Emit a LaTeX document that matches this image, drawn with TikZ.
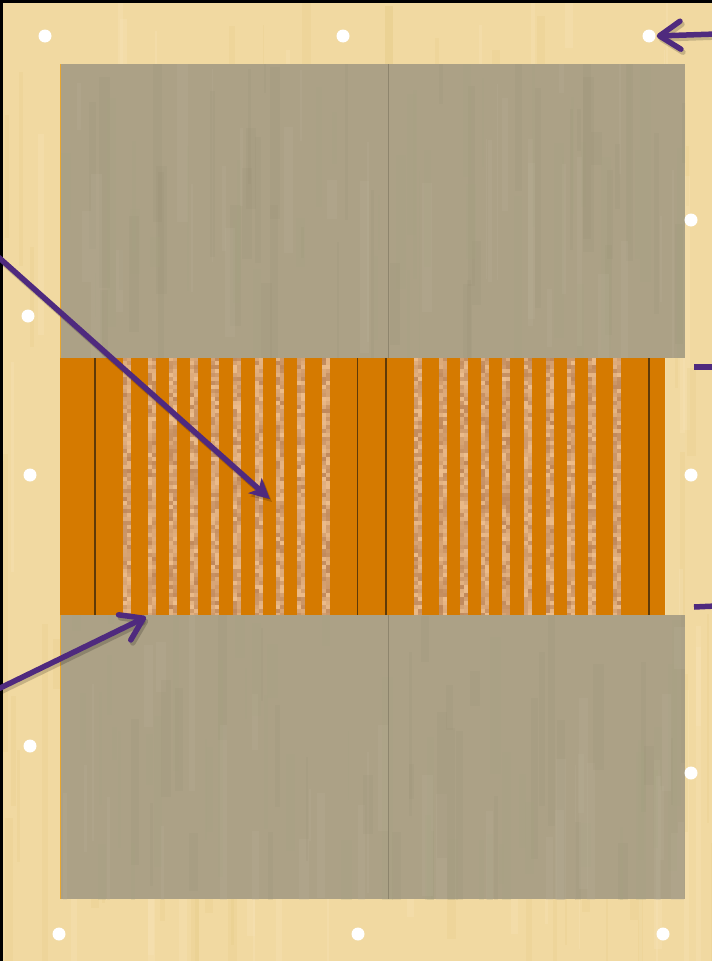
\documentclass[tikz,border=0pt]{standalone}
\usetikzlibrary{arrows.meta}
\definecolor{papyrus}{HTML}{F1D9A1}
\definecolor{papyrusdark}{HTML}{E2C67C}
\definecolor{papyruslight}{HTML}{F9E7BE}
\definecolor{panelgray}{HTML}{ACA186}
\definecolor{panelgraydark}{HTML}{978D72}
\definecolor{panelgraylight}{HTML}{BDB39C}
\definecolor{panelgreen}{HTML}{A6A582}
\definecolor{bandorange}{HTML}{D57A00}
\definecolor{texdark}{HTML}{A96E42}
\definecolor{texlight}{HTML}{F4C695}
\definecolor{seam}{HTML}{5E3A08}
\definecolor{arrowpurple}{HTML}{4F2A7E}
\definecolor{edgeorange}{HTML}{E8A630}
\tikzset{
  pindot/.style={circle,fill=white,minimum size=13pt,inner sep=0pt},
  pointer/.style={draw=arrowpurple,line width=5.5pt,line cap=round},
  barbtip/.style={-{Straight Barb[length=21pt,width=28pt,line width=5.5pt,round]}},
  kitetip/.style={-{Stealth[length=20pt,width=20pt,inset=5pt]}},
  shadowline/.style={draw=black,opacity=0.18,line width=5.5pt,line cap=round},
  seamline/.style={draw=seam,line width=1.2pt},
  panelseam/.style={draw=panelgraydark!70!black,opacity=0.45,line width=0.9pt},
  edgeline/.style={draw=edgeorange,line width=1pt}
}
\begin{document}
\begin{tikzpicture}[x=1pt,y=-1pt]
\useasboundingbox (0,0) rectangle (712,961);
\pgfmathsetseed{4711}
% papyrus background
\fill[papyrus] (0,0) rectangle (712,961);
\foreach \i in {1,...,160} {
  \pgfmathsetmacro\sx{rnd*712}
  \pgfmathsetmacro\sw{1+rnd*8}
  \pgfmathsetmacro\sy{rnd*900-40}
  \pgfmathsetmacro\sh{40+rnd*320}
  \pgfmathrandominteger{\rndC}{0}{1}
  \ifnum\rndC=0
    \fill[papyrusdark,opacity=0.18] (\sx,\sy) rectangle ++(\sw,\sh);
  \else
    \fill[papyruslight,opacity=0.25] (\sx,\sy) rectangle ++(\sw,\sh);
  \fi
}
% orange band
\fill[bandorange] (60,357) rectangle (665,615);
\foreach \x in {123,148,169,190,211,233,255,276,297,322,414,439,460,481,502,524,546,567,588,613} {
  \foreach \y in {357,361,...,613} {
    \pgfmathrandominteger{\rndA}{10}{70}
    \pgfmathrandominteger{\rndB}{10}{70}
    \fill[texdark!\rndA!texlight] (\x,\y) rectangle ++(4,4);
    \fill[texdark!\rndB!texlight] (\x+4,\y) rectangle ++(4,4);
  }
}
\foreach \x in {95,357.5,386,649} \draw[seamline] (\x,357) -- (\x,615);
% grey panels
\foreach \ya/\yb in {64/357.5,615/899} {
  \fill[panelgray] (60,\ya) rectangle (685,\yb);
  \begin{scope}
    \clip (60,\ya) rectangle (685,\yb);
    \foreach \i in {1,...,110} {
      \pgfmathsetmacro\sx{60+rnd*625}
      \pgfmathsetmacro\sw{1+rnd*10}
      \pgfmathsetmacro\sy{\ya+rnd*260-30}
      \pgfmathsetmacro\sh{30+rnd*200}
      \pgfmathrandominteger{\rndC}{0}{2}
      \ifcase\rndC
        \fill[panelgraydark,opacity=0.15] (\sx,\sy) rectangle ++(\sw,\sh);
      \or
        \fill[panelgraylight,opacity=0.2] (\sx,\sy) rectangle ++(\sw,\sh);
      \else
        \fill[panelgreen,opacity=0.2] (\sx,\sy) rectangle ++(\sw,\sh);
      \fi
    }
  \end{scope}
  \draw[panelseam] (388,\ya) -- (388,\yb);
  \draw[edgeline] (60.5,\ya) -- (60.5,\yb);
}
% frame
\draw[line width=3pt,black] (1.5,961) -- (1.5,1.5) -- (712,1.5);
% pins
\node[pindot] (d1) at (45,36) {};
\node[pindot] (d2) at (343,36) {};
\node[pindot] (d3) at (649,36) {};
\node[pindot] (d4) at (28,316) {};
\node[pindot] (d5) at (30,475) {};
\node[pindot] (d6) at (30,746) {};
\node[pindot] (d7) at (691,220) {};
\node[pindot] (d8) at (691,475) {};
\node[pindot] (d9) at (691,773) {};
\node[pindot] (d10) at (59,934) {};
\node[pindot] (d11) at (358,934) {};
\node[pindot] (d12) at (663,934) {};
% pointers
\coordinate (a1s) at (-4,255);
\coordinate (a1e) at (270,499);
\coordinate (a2s) at (-4,690);
\coordinate (a2e) at (146,617);
\coordinate (a3s) at (716,34);
\coordinate (s1a) at (694,367);
\coordinate (s1b) at (716,367);
\coordinate (s2a) at (694,607);
\coordinate (s2b) at (716,606);
\draw[shadowline,kitetip] ([shift={(2,3)}]a1s) -- ([shift={(2,3)}]a1e);
\draw[shadowline,barbtip] ([shift={(2,3)}]a2s) -- ([shift={(2,3)}]a2e);
\draw[shadowline,barbtip] ([shift={(2,3)}]a3s) -- ([shift={(3,3)}]d3.east);
\draw[pointer,kitetip,fill=arrowpurple] (a1s) -- (a1e);
\draw[pointer,barbtip] (a2s) -- (a2e);
\draw[pointer,barbtip] (a3s) -- ([xshift=1pt]d3.east);
\draw[pointer,line cap=butt] (s1a) -- (s1b);
\draw[pointer,line cap=butt] (s2a) -- (s2b);
\end{tikzpicture}
\end{document}
